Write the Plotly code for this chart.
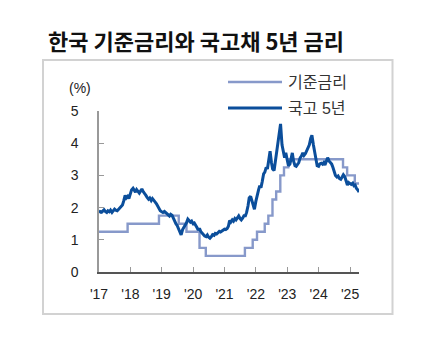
import pandas as pd
import plotly.graph_objects as go

# Korean policy rate (%), effective dates of each change
base_dates = ["2017-01-01", "2017-11-30", "2018-11-30", "2019-07-18", "2019-10-16",
              "2020-03-16", "2020-05-28", "2021-08-26", "2021-11-25", "2022-01-14",
              "2022-04-14", "2022-05-26", "2022-07-13", "2022-08-25", "2022-10-12",
              "2022-11-24", "2023-01-13", "2024-10-11", "2024-11-28", "2025-02-25",
              "2025-04-15"]
base_rate = [1.25, 1.50, 1.75, 1.50, 1.25,
             0.75, 0.50, 0.75, 1.00, 1.25,
             1.50, 1.75, 2.25, 2.50, 3.00,
             3.25, 3.50, 3.25, 3.00, 2.75,
             2.75]

# 5-year KTB yield (%), semi-monthly observations (1st and 15th)
ktb_2017 = [1.84, 1.88, 1.86, 1.90, 1.93, 1.88, 1.85, 1.90, 1.87, 1.92, 1.85, 1.90,
            1.95, 1.92, 1.90, 1.94, 1.98, 2.03, 2.08, 2.20, 2.38, 2.30, 2.35, 2.28]
ktb_2018 = [2.45, 2.55, 2.60, 2.52, 2.48, 2.56, 2.50, 2.45, 2.52, 2.58, 2.49, 2.42,
            2.38, 2.32, 2.26, 2.30, 2.22, 2.28, 2.24, 2.18, 2.12, 2.05, 1.95, 1.90]
ktb_2019 = [1.87, 1.85, 1.88, 1.84, 1.80, 1.77, 1.74, 1.79, 1.76, 1.68, 1.56, 1.50,
            1.44, 1.35, 1.20, 1.15, 1.32, 1.38, 1.45, 1.52, 1.64, 1.60, 1.55, 1.58]
ktb_2020 = [1.50, 1.52, 1.46, 1.38, 1.30, 1.36, 1.25, 1.20, 1.14, 1.12, 1.10, 1.15,
            1.08, 1.05, 1.10, 1.16, 1.14, 1.20, 1.18, 1.22, 1.26, 1.24, 1.28, 1.30]
ktb_2021 = [1.33, 1.32, 1.35, 1.42, 1.60, 1.55, 1.62, 1.58, 1.66, 1.62, 1.70, 1.74,
            1.66, 1.62, 1.68, 1.75, 1.75, 1.85, 2.05, 2.30, 2.35, 2.20, 2.05, 1.95]
ktb_2022 = [2.20, 2.42, 2.55, 2.68, 2.62, 2.80, 3.05, 3.10, 3.25, 3.20, 3.45, 3.75,
            3.40, 3.20, 3.15, 3.40, 3.70, 4.05, 4.35, 4.60, 3.95, 3.75, 3.55, 3.70]
ktb_2023 = [3.40, 3.30, 3.35, 3.55, 3.70, 3.45, 3.30, 3.28, 3.34, 3.40, 3.55, 3.60,
            3.70, 3.62, 3.68, 3.78, 3.85, 3.95, 4.15, 4.25, 3.95, 3.70, 3.45, 3.30]
ktb_2024 = [3.28, 3.36, 3.38, 3.35, 3.40, 3.32, 3.45, 3.55, 3.45, 3.40, 3.35, 3.25,
            3.10, 3.00, 2.95, 2.98, 2.90, 2.88, 2.95, 3.02, 2.96, 2.80, 2.70, 2.78]
ktb_2025 = [2.75, 2.72, 2.76, 2.68, 2.70, 2.60, 2.55, 2.48]

ktb_values = ktb_2017 + ktb_2018 + ktb_2019 + ktb_2020 + ktb_2021 + ktb_2022 + ktb_2023 + ktb_2024 + ktb_2025
ktb_dates = pd.date_range("2017-01-01", periods=len(ktb_values), freq="SMS")

year_ticks = [f"{y}-01-01" for y in range(2017, 2026)]
year_labels = [f"'{y % 100:02d}" for y in range(2017, 2026)]

series_names = ["기준금리", "국고 5년"]
series_colors = ["#8799CA", "#0B4E9B"]

W, H = 443, 342
L, R, T, B = 99, 359, 111, 272  # plot area in pixels


def px(x):
    return (x - L) / (R - L)


def py(y):
    return (B - y) / (B - T)


fig = go.Figure()
fig.add_trace(go.Scatter(x=base_dates, y=base_rate, mode="lines", line_shape="hv",
                         name=series_names[0],
                         line=dict(color=series_colors[0], width=2.4)))
fig.add_trace(go.Scatter(x=ktb_dates, y=ktb_values, mode="lines",
                         name=series_names[1],
                         line=dict(color=series_colors[1], width=3)))

tick_font = dict(family="Liberation Sans, Arial, sans-serif", size=14, color="#222222")

fig.update_layout(
    width=W, height=H,
    margin=dict(l=L, r=W - R, t=T, b=H - B),
    paper_bgcolor="white", plot_bgcolor="white",
    showlegend=False,
    font=tick_font,
    xaxis=dict(type="date", range=["2017-01-01", "2025-04-15"],
               tickvals=year_ticks, ticktext=year_labels,
               ticks="inside", ticklen=5, tickcolor="#999999", tickwidth=1,
               showline=True, linecolor="#555555", linewidth=1.5,
               showgrid=False, zeroline=False, tickfont=tick_font,
               ticklabelstandoff=8),
    yaxis=dict(range=[0, 5], dtick=1,
               ticks="inside", ticklen=5, tickcolor="#999999", tickwidth=1,
               showline=True, linecolor="#999999", linewidth=1.5,
               showgrid=False, zeroline=False, tickfont=tick_font,
               ticklabelstandoff=16),
)

# Frame around the chart
fig.add_shape(type="rect", xref="paper", yref="paper",
              x0=px(43), x1=px(392.5), y0=py(314), y1=py(60),
              line=dict(color="#D2D2D2", width=2), fillcolor="rgba(0,0,0,0)", layer="below")

# Title
fig.add_annotation(text="<b>한국 기준금리와 국고채 5년 금리</b>", xref="paper", yref="paper",
                   x=px(46), y=py(40), xanchor="left", yanchor="middle", showarrow=False,
                   font=dict(family="Noto Sans CJK KR, sans-serif", size=22, color="#111111"))

# Unit label
fig.add_annotation(text="(%)", xref="paper", yref="paper",
                   x=px(80), y=py(88), xanchor="center", yanchor="middle", showarrow=False,
                   font=tick_font)

# Legend
for i, (name, color) in enumerate(zip(series_names, series_colors)):
    yy = 82 + i * 26
    fig.add_shape(type="line", xref="paper", yref="paper",
                  x0=px(228), x1=px(282), y0=py(yy), y1=py(yy),
                  line=dict(color=color, width=2.8 if i else 2.4))
    fig.add_annotation(text=name, xref="paper", yref="paper",
                       x=px(286), y=py(yy), xanchor="left", yanchor="middle", showarrow=False,
                       font=dict(family="Liberation Sans, Noto Sans CJK KR, sans-serif",
                                 size=16, color="#333333"))

fig.write_html("out.html")
